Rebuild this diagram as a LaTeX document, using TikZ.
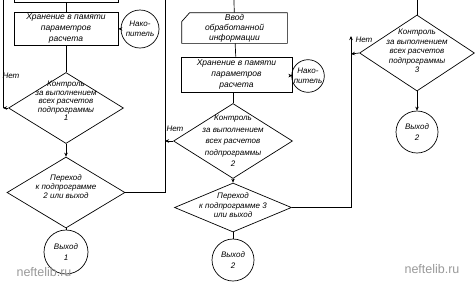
\documentclass[tikz,border=0pt]{standalone}
\usepackage{fontspec}
\setmainfont{Liberation Sans}
\usetikzlibrary{arrows.meta,shapes.geometric}
\tikzset{box/.style={draw,align=center,minimum width=104pt,minimum height=33pt,
  inner sep=1pt,font=\itshape\fontsize{8.5}{11}\selectfont},
  inbox/.style={align=center,minimum width=105pt,minimum height=30pt,
  inner sep=1pt,font=\itshape\fontsize{8.5}{10}\selectfont},
  decision/.style={diamond,draw,inner sep=0pt,minimum width=116pt,minimum height=72pt},
  dtext/.style={align=center,inner sep=0pt,font=\itshape\fontsize{8}{9}\selectfont},
  term/.style={circle,draw,inner sep=0pt,align=center,minimum size=42pt,
  font=\itshape\fontsize{8}{10.5}\selectfont},
  lbl/.style={inner sep=0pt,font=\itshape\fontsize{8}{9}\selectfont},
  wm/.style={inner sep=0pt,text=black!40,font=\fontsize{12.5}{12.5}\selectfont},
  arrow/.style={-{Stealth[length=4pt,width=3.5pt]}}}

\begin{document}
\begin{tikzpicture}[x=1pt,y=-1pt,line width=0.7pt]
\useasboundingbox (0,0) rectangle (476,285);
\clip (0,0) rectangle (476,285);
% first subroutine
\node[box,minimum height=24pt] (prev) at (66,-10) {};
\node[box] (store1) at (66,28.5) {Хранение в памяти\\параметров\\расчета};
\node[term,minimum size=38pt] (acc1) at (140,29) {Нако-\\питель};
\node[decision,minimum width=115pt,minimum height=71pt,
  label={[dtext,yshift=7pt,font=\itshape\fontsize{8}{8.6}\selectfont]center:{Контроль\\за выполнением\\всех расчетов\\подпрограммы\\1}}] (ctl1) at (66,108) {};
\node[decision,minimum width=118pt,minimum height=71pt,
  label={[dtext,yshift=6pt]center:{Переход\\к подпрограмме\\2 или выход}}] (jmp1) at (66,192.5) {};
\node[term,minimum size=44pt] (exit1) at (66,252) {Выход\\1};
\node[lbl] (no1) at (11,76) {Нет};
\coordinate (back1) at (3,108);
\coordinate (top1) at (3,0);
\draw (prev) -- (store1);
\draw[arrow] (acc1) -- (store1);
\draw (store1) -- (ctl1);
\draw[arrow] (ctl1) -- (jmp1);
\draw (jmp1) -- (exit1);
\draw[arrow] (ctl1.west) -- (back1);
\draw (back1) -- (top1);
% second subroutine
\coordinate (top2) at (165,0);
\coordinate (in2) at (234,0);
\node[inbox] (inp2) at (234.5,28) {Ввод\\обработанной\\информации};
\draw ([xshift=8pt]inp2.north west) -- (inp2.north east) -- (inp2.south east)
  -- (inp2.south west) -- ([yshift=-9pt]inp2.north west) -- cycle;
\node[box,minimum width=111pt,minimum height=35pt] (store2) at (236.5,74.5) {Хранение в памяти\\параметров\\расчета};
\node[term,minimum size=31pt] (acc2) at (308,76) {Нако-\\питель};
\node[decision,minimum width=119pt,minimum height=75pt,
  label={[dtext,font=\itshape\fontsize{8}{11.5}\selectfont]center:{Контроль\\за выполнением\\всех расчетов\\подпрограммы\\2}}] (ctl2) at (233,141) {};
\node[decision,minimum width=117pt,minimum height=49pt,
  label={[dtext,yshift=2pt,font=\itshape\fontsize{8}{9.5}\selectfont]center:{Переход\\к подпрограмме 3\\или выход}}] (jmp2) at (233,207.5) {};
\node[term,minimum size=42pt] (exit2) at (233,260) {Выход\\2};
\node[lbl] (no2) at (175,129) {Нет};
\coordinate (back2) at (165,141);
\draw (jmp1.east) -| (top2);
\draw (in2) -- (inp2);
\draw (inp2) -- (store2);
\draw[arrow] (acc2) -- (store2);
\draw (store2.south -| ctl2.north) -- (ctl2);
\draw[arrow] (ctl2) -- (jmp2);
\draw (jmp2) -- (exit2);
\draw[arrow] (ctl2.west) -- (back2);
% third subroutine
\coordinate (in3) at (417,0);
\coordinate (up3) at (351,36);
\coordinate (back3) at (351,54);
\node[decision,minimum width=115pt,minimum height=76pt,
  label={[dtext,yshift=2pt,font=\itshape\fontsize{8}{9.6}\selectfont]center:{Контроль\\за выполнением\\всех расчетов\\подпрограммы\\3}}] (ctl3) at (417,53) {};
\node[term,minimum size=42pt] (exit3) at (417,132) {Выход\\2};
\node[lbl] (no3) at (364,40) {Нет};
\draw (in3) -- (ctl3);
\draw[arrow] (ctl3) -- (exit3);
\draw[arrow] (ctl3.west) -- (back3);
\draw[arrow] (jmp2.east) -| (up3);
% watermark
\node[wm] (wm1) at (44,272) {neftelib.ru};
\node[wm] (wm2) at (432,269) {neftelib.ru};
\end{tikzpicture}
\end{document}
